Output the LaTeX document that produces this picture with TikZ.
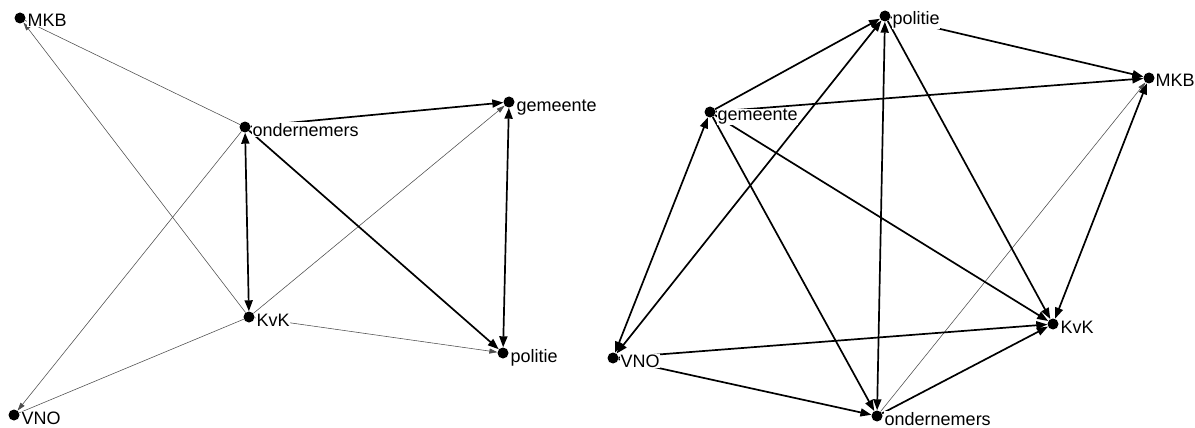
\documentclass[tikz,border=0pt]{standalone}
\usepackage{fontspec}
\setmainfont{Liberation Sans}
\usetikzlibrary{arrows.meta}
\begin{document}
\begin{tikzpicture}[x=1pt,y=-1pt,
  dot/.style={circle,fill=black,inner sep=0pt,minimum size=11pt},
  lab/.style={anchor=base west,fill=white,inner sep=0.5pt,font=\fontsize{18}{18}\selectfont},
  thk/.style={line width=1.7pt,black},
  thn/.style={line width=0.55pt,black!70},
  ar/.style={-{Triangle[length=11pt,width=8pt]}},
  arb/.style={arrows={Triangle[length=11pt,width=8pt]-Triangle[length=11pt,width=8pt]}},
  art/.style={-{Triangle[length=8pt,width=5pt]}}
]
\fill[white] (0,0) rectangle (1195,428);
\useasboundingbox (0,0) rectangle (1195,428);

% ---------- left graph: nodes ----------
\node[dot] (lMKB) at (20,18) {};
\node[dot] (lOnd) at (245,127) {};
\node[dot] (lGem) at (509,102) {};
\node[dot] (lKvK) at (249,317) {};
\node[dot] (lPol) at (503,353) {};
\node[dot] (lVNO) at (14,415) {};

% ---------- left graph: edges ----------
\draw[thn] (lOnd) -- (lMKB);
\draw[thn,art] (lKvK) -- (lMKB);
\draw[thn,art] (lOnd) -- (lVNO);
\draw[thn] (lKvK) -- (lVNO);
\draw[thn,art] (lKvK) -- (lGem);
\draw[thn,art] (lKvK) -- (lPol);
\draw[thk,ar] (lOnd) -- (lGem);
\draw[thk,arb] (lOnd) -- (lKvK);
\draw[thk,ar] (lOnd) -- (lPol);
\draw[thk,arb] (lGem) -- (lPol);

% ---------- left graph: labels ----------
\node[lab] (tlMKB) at ([xshift=7pt,yshift=-9pt]lMKB.center) {MKB};
\node[lab] (tlOnd) at ([xshift=7pt,yshift=-9pt]lOnd.center) {ondernemers};
\node[lab] (tlGem) at ([xshift=7pt,yshift=-9pt]lGem.center) {gemeente};
\node[lab] (tlKvK) at ([xshift=7pt,yshift=-9pt]lKvK.center) {KvK};
\node[lab] (tlPol) at ([xshift=7pt,yshift=-9pt]lPol.center) {politie};
\node[lab] (tlVNO) at ([xshift=7pt,yshift=-9pt]lVNO.center) {VNO};

% ---------- right graph: nodes ----------
\node[dot] (rPol) at (885,16) {};
\node[dot] (rMKB) at (1149,78) {};
\node[dot] (rGem) at (710,112) {};
\node[dot] (rKvK) at (1053,324) {};
\node[dot] (rVNO) at (613,358) {};
\node[dot] (rOnd) at (877,416) {};

% ---------- right graph: edges ----------
\draw[thn,art] (rOnd) -- (rMKB);
\draw[thk,ar] (rGem) -- (rPol);
\draw[thk,ar] (rPol) -- (rMKB);
\draw[thk,ar] (rGem) -- (rMKB);
\draw[thk,arb] (rMKB) -- (rKvK);
\draw[thk,ar] (rPol) -- (rKvK);
\draw[thk,arb] (rPol) -- (rOnd);
\draw[thk,arb] (rVNO) -- (rPol);
\draw[thk,arb] (rGem) -- (rVNO);
\draw[thk,ar] (rGem) -- (rOnd);
\draw[thk,ar] (rGem) -- (rKvK);
\draw[thk,ar] (rVNO) -- (rKvK);
\draw[thk,ar] (rVNO) -- (rOnd);
\draw[thk,ar] (rOnd) -- (rKvK);

% ---------- right graph: labels ----------
\node[lab] (trPol) at ([xshift=7pt,yshift=-9pt]rPol.center) {politie};
\node[lab] (trMKB) at ([xshift=6pt,yshift=-9pt]rMKB.center) {MKB};
\node[lab] (trGem) at ([xshift=7pt,yshift=-9pt]rGem.center) {gemeente};
\node[lab] (trKvK) at ([xshift=7pt,yshift=-9pt]rKvK.center) {KvK};
\node[lab] (trVNO) at ([xshift=7pt,yshift=-9pt]rVNO.center) {VNO};
\node[lab] (trOnd) at ([xshift=7pt,yshift=-9pt]rOnd.center) {ondernemers};
\end{tikzpicture}
\end{document}
